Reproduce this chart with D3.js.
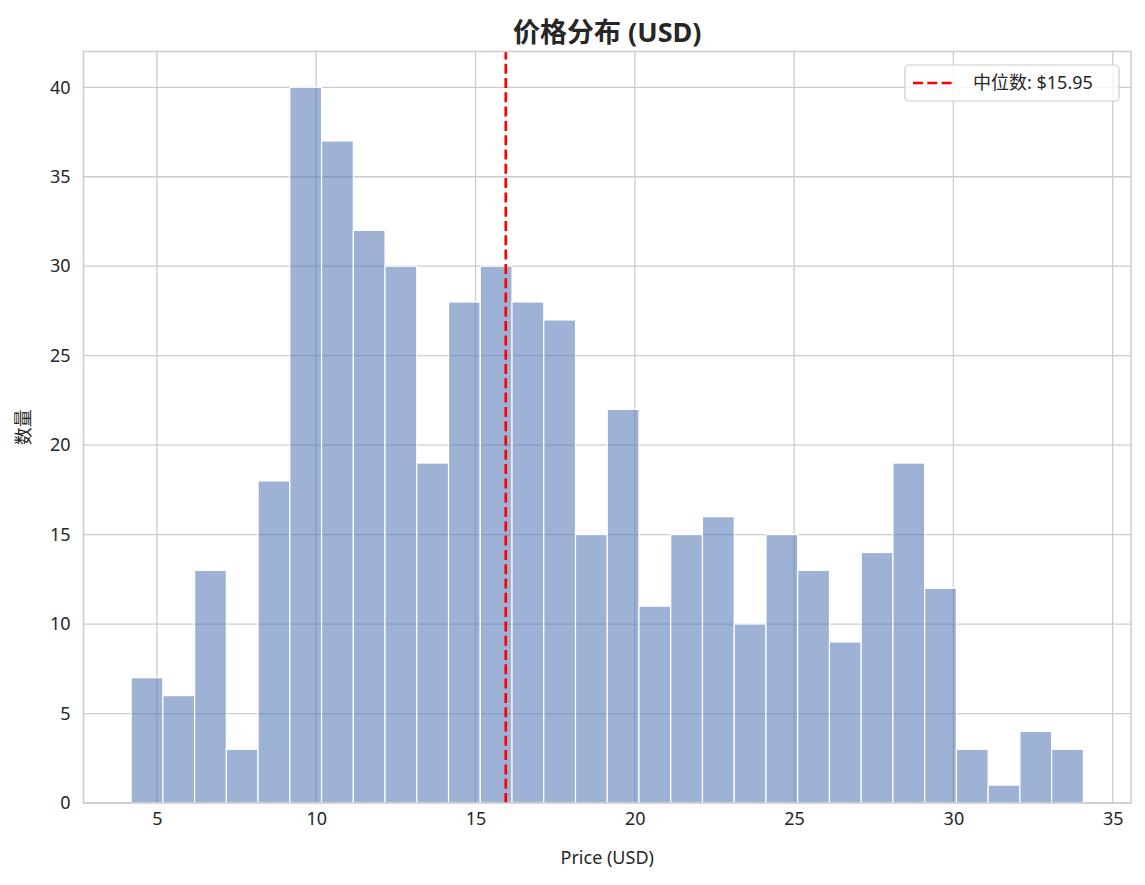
<!DOCTYPE HTML>
<html>
  <head>
    <meta charset="utf-8">
    <title>价格分布 (USD)</title>
    <style>
      body { margin: 0; background: #fff; }
      text { font-family: "Noto Sans", "Noto Sans CJK SC", sans-serif; fill: #262626; }
    </style>
  </head>
  <body>
    <script src="https://cdn.jsdelivr.net/npm/d3@7"></script>
    <script>
      // histogram bins: 30 equal bins between min and max price
      var priceMin = 4.19,
        priceMax = 34.08;
      var counts = [7, 6, 13, 3, 18, 40, 37, 32, 30, 19,
                    28, 30, 28, 27, 15, 22, 11, 15, 16, 10,
                    15, 13, 9, 14, 19, 12, 3, 1, 4, 3];
      var median = 15.95;
      var xTicks = [5, 10, 15, 20, 25, 30, 35];
      var yTicks = [0, 5, 10, 15, 20, 25, 30, 35, 40];

      var width = 1145,
        height = 885;
      var margin = {left: 83.5, right: 14, top: 51.5, bottom: 82};

      var binW = (priceMax - priceMin) / counts.length;
      var bins = counts.map(function(c, i) {
        return {x0: priceMin + i * binW, x1: priceMin + (i + 1) * binW, n: c};
      });

      var pad = (priceMax - priceMin) * 0.05;
      var x = d3.scaleLinear()
          .domain([priceMin - pad, priceMax + pad])
          .range([margin.left, width - margin.right]);
      var y = d3.scaleLinear()
          .domain([0, 42])
          .range([height - margin.bottom, margin.top]);

      var svg = d3.select('body').append('svg')
          .attr('width', width)
          .attr('height', height);

      // grid
      svg.append('g').selectAll('line.gx')
          .data(xTicks)
        .enter().append('line')
          .attr('x1', function(d) { return x(d); })
          .attr('x2', function(d) { return x(d); })
          .attr('y1', y(0))
          .attr('y2', y(42))
          .attr('stroke', '#cccccc')
          .attr('stroke-width', 1.3);
      svg.append('g').selectAll('line.gy')
          .data(yTicks)
        .enter().append('line')
          .attr('x1', x.range()[0])
          .attr('x2', x.range()[1])
          .attr('y1', function(d) { return y(d); })
          .attr('y2', function(d) { return y(d); })
          .attr('stroke', '#cccccc')
          .attr('stroke-width', 1.3);

      // bars
      svg.append('g').selectAll('rect')
          .data(bins)
        .enter().append('rect')
          .attr('x', function(d) { return x(d.x0); })
          .attr('width', function(d) { return x(d.x1) - x(d.x0); })
          .attr('y', function(d) { return y(d.n); })
          .attr('height', function(d) { return y(0) - y(d.n); })
          .attr('fill', '#4C72B0')
          .attr('fill-opacity', 0.55)
          .attr('stroke', '#ffffff')
          .attr('stroke-width', 1.2);

      // median line
      svg.append('line')
          .attr('x1', x(median))
          .attr('x2', x(median))
          .attr('y1', y(0))
          .attr('y2', y(42))
          .attr('stroke', '#ff0000')
          .attr('stroke-width', 2.7)
          .attr('stroke-dasharray', '10,4.3');

      // frame
      svg.append('rect')
          .attr('x', x.range()[0])
          .attr('y', y(42))
          .attr('width', x.range()[1] - x.range()[0])
          .attr('height', y(0) - y(42))
          .attr('fill', 'none')
          .attr('stroke', '#cccccc')
          .attr('stroke-width', 1.5);

      // axes (labels only)
      var xAxis = svg.append('g')
          .attr('transform', 'translate(0,' + (y(0) + 8) + ')')
          .call(d3.axisBottom(x).tickValues(xTicks).tickSize(0).tickPadding(0));
      var yAxis = svg.append('g')
          .attr('transform', 'translate(' + (x.range()[0] - 13) + ',0)')
          .call(d3.axisLeft(y).tickValues(yTicks).tickSize(0).tickPadding(0));
      [xAxis, yAxis].forEach(function(a) {
        a.select('.domain').remove();
        a.selectAll('text')
          .attr('font-size', 18)
          .attr('font-family', '"Noto Sans", "Noto Sans CJK SC", sans-serif')
          .attr('fill', '#262626');
      });
      xAxis.selectAll('text').attr('dy', '0.8em');

      // title and labels
      var cx = (x.range()[0] + x.range()[1]) / 2;
      svg.append('text')
          .attr('x', cx)
          .attr('y', 42)
          .attr('text-anchor', 'middle')
          .attr('font-size', 27)
          .attr('font-weight', 'bold')
          .text('价格分布 (USD)');
      svg.append('text')
          .attr('x', cx)
          .attr('y', 864)
          .attr('text-anchor', 'middle')
          .attr('font-size', 18)
          .text('Price (USD)');
      svg.append('text')
          .attr('transform', 'translate(30,' + ((y(0) + y(42)) / 2) + ') rotate(-90)')
          .attr('text-anchor', 'middle')
          .attr('font-size', 18)
          .text('数量');

      // legend
      var lg = svg.append('g');
      lg.append('rect')
          .attr('x', 905)
          .attr('y', 65)
          .attr('width', 214)
          .attr('height', 36)
          .attr('rx', 4)
          .attr('fill', '#ffffff')
          .attr('fill-opacity', 0.8)
          .attr('stroke', '#cccccc')
          .attr('stroke-width', 1.2);
      lg.append('line')
          .attr('x1', 913)
          .attr('x2', 955)
          .attr('y1', 83)
          .attr('y2', 83)
          .attr('stroke', '#ff0000')
          .attr('stroke-width', 2.7)
          .attr('stroke-dasharray', '10,4.3');
      lg.append('text')
          .attr('x', 973)
          .attr('y', 83)
          .attr('dy', '0.35em')
          .attr('font-size', 18)
          .text('中位数: $' + median.toFixed(2));
    </script>
  </body>
</html>
